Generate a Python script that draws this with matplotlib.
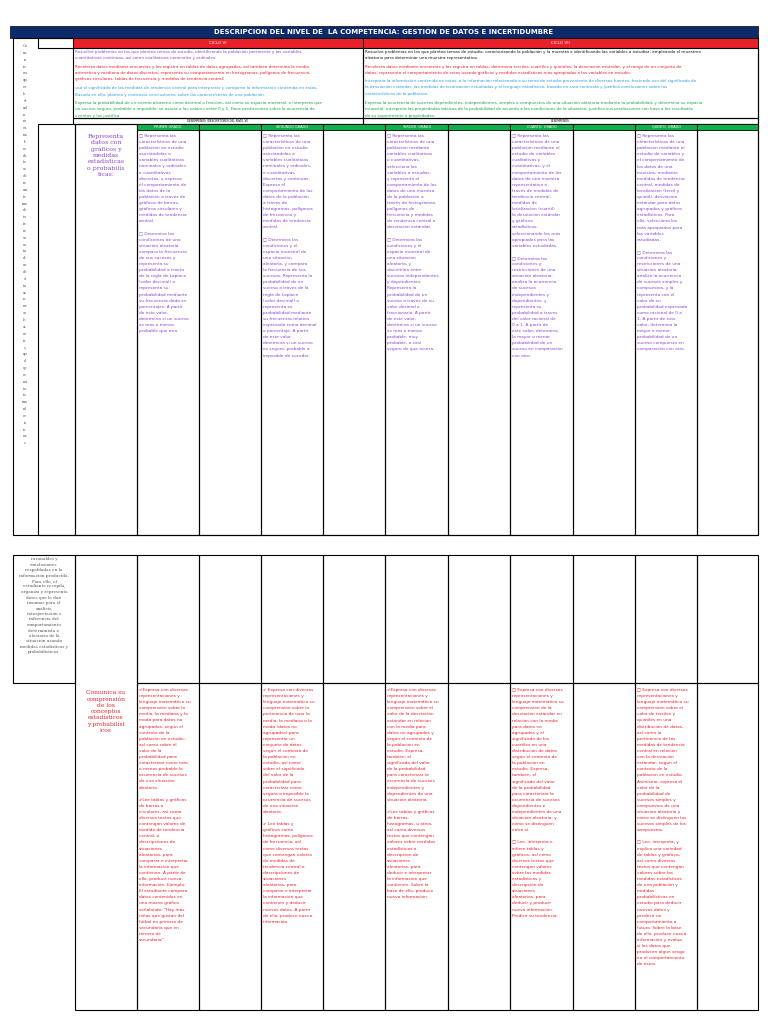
import textwrap
import matplotlib.pyplot as plt
from matplotlib.patches import Rectangle

TITLE = "DESCRIPCION DEL NIVEL DE  LA COMPETENCIA: GESTIÓN DE DATOS E INCERTIDUMBRE"
CYCLES = ["CICLO VI", "CICLO VII"]
GRADES = ["PRIMER GRADO", "SEGUNDO GRADO", "TERCER  GRADO", "CUARTO  GRADO", "QUINTO  GRADO"]

CYCLE6_PARTS = [
    ("Resuelve problemas en los que plantea temas de estudio, identificando la población pertinente y las variables cuantitativas continuas, así como cualitativas nominales y ordinales.", "#8e44c9"),
    ("Recolecta datos mediante encuestas y los registra en tablas de datos agrupados, así también determina la media aritmética y mediana de datos discretos; representa su comportamiento en histogramas, polígonos de frecuencia, gráficos circulares, tablas de frecuencia y medidas de tendencia central;", "#e8202a"),
    ("usa el significado de las medidas de tendencia central para interpretar y comparar la información contenida en estos. Basado en ello, plantea y contrasta conclusiones, sobre las características de una población.", "#2f9be0"),
    ("Expresa la probabilidad de un evento aleatorio como decimal o fracción, así como su espacio muestral; e interpreta que un suceso seguro, probable e imposible, se asocia a los valores entre 0 y 1. Hace predicciones sobre la ocurrencia de eventos y las justifica.", "#1aa34a"),
]
CYCLE7_PARTS = [
    ("Resuelve problemas en los que plantea temas de estudio, caracterizando la población y la muestra e identificando las variables a estudiar; empleando el muestreo aleatorio para determinar una muestra representativa.", "#111111"),
    ("Recolecta datos mediante encuestas y los registra en tablas, determina terciles, cuartiles y quintiles; la desviación estándar, y el rango de un conjunto de datos; representa el comportamiento de estos usando gráficos y medidas estadísticas más apropiadas a las variables en estudio.", "#e8202a"),
    ("Interpreta la información contenida en estos, o la información relacionada a su tema de estudio proveniente de diversas fuentes, haciendo uso del significado de la desviación estándar, las medidas de localización estudiadas y el lenguaje estadístico; basado en esto contrasta y justifica conclusiones sobre las características de la población.", "#2f9be0"),
    ("Expresa la ocurrencia de sucesos dependientes, independientes, simples o compuestos de una situación aleatoria mediante la probabilidad, y determina su espacio muestral; interpreta las propiedades básicas de la probabilidad de acuerdo a las condiciones de la situación; justifica sus predicciones con base a los resultados de su experimento o propiedades.", "#1aa34a"),
]

CAP1 = "Representa datos con gráficos y medidas estadísticas o probabilísticas:"
CAP2 = "Comunica su comprensión de los conceptos estadísticos y probabilísticos"
LEFT_TEXT = ("razonables y conclusiones respaldadas en la información producida. Para ello, el estudiante recopila, organiza "
             "y representa datos que le dan insumos para el análisis, interpretación e inferencia del comportamiento "
             "determinista o aleatorio de la situación usando medidas estadísticas y probabilísticas.")
VERTICAL_TEXT = ("Consiste en que el estudiante analice datos sobre un tema de interés o estudio o de situaciones "
                 "aleatorias, que le permita tomar decisiones")

ROW1_TEXTS = [
    "□ Representa las características de una población en estudio asociándolas a variables cualitativas nominales y ordinales, o cuantitativas discretas, y expresa el comportamiento de los datos de la población a través de gráficos de barras, gráficos circulares y medidas de tendencia central.\n□ Determina las condiciones de una situación aleatoria, compara la frecuencia de sus sucesos y representa su probabilidad a través de la regla de Laplace (valor decimal) o representa su probabilidad mediante su frecuencia dada en porcentajes. A partir de este valor, determina si un suceso es más o menos probable que otro.",
    "□ Representa las características de una población en estudio asociándolas a variables cualitativas nominales y ordinales, o cuantitativas discretas y continuas. Expresa el comportamiento de los datos de la población a través de histogramas, polígonos de frecuencia y medidas de tendencia central.\n□ Determina las condiciones y el espacio muestral de una situación aleatoria, y compara la frecuencia de sus sucesos. Representa la probabilidad de un suceso a través de la regla de Laplace (valor decimal) o representa su probabilidad mediante su frecuencia relativa expresada como decimal o porcentaje. A partir de este valor determina si un suceso es seguro, probable o imposible de suceder.",
    "□ Representa las características de una población mediante variables cualitativas o cuantitativas, selecciona las variables a estudiar, y representa el comportamiento de los datos de una muestra de la población a través de histogramas, polígonos de frecuencia y medidas de tendencia central o desviación estándar.\n□ Determina las condiciones y el espacio muestral de una situación aleatoria, y discrimina entre sucesos independientes y dependientes. Representa la probabilidad de un suceso a través de su valor decimal o fraccionario. A partir de este valor, determina si un suceso es más o menos probable, muy probable, o casi seguro de que ocurra.",
    "□ Representa las características de una población mediante el estudio de variables cualitativas y cuantitativas, y el comportamiento de los datos de una muestra representativa a través de medidas de tendencia central, medidas de localización (cuartil) la desviación estándar y gráficos estadísticos, seleccionando los más apropiados para las variables estudiadas.\n□ Determina las condiciones y restricciones de una situación aleatoria, analiza la ocurrencia de sucesos independientes y dependientes, y representa su probabilidad a través del valor racional de 0 a 1. A partir de este valor, determina la mayor o menor probabilidad de un suceso en comparación con otro.",
    "□ Representa las características de una población mediante el estudio de variables y el comportamiento de los datos de una muestra, mediante medidas de tendencia central, medidas de localización (tercil y quintil), desviación estándar para datos agrupados y gráficos estadísticos. Para ello, selecciona los más apropiados para las variables estudiadas.\n□ Determina las condiciones y restricciones de una situación aleatoria, analiza la ocurrencia de sucesos simples y compuestos, y la representa con el valor de su probabilidad expresada como racional de 0 a 1. A partir de este valor, determina la mayor o menor probabilidad de un suceso compuesto en comparación con otro.",
]
ROW2_TEXTS = [
    "✔Expresa con diversas representaciones y lenguaje matemático su comprensión sobre la media, la mediana y la moda para datos no agrupados, según el contexto de la población en estudio, así como sobre el valor de la probabilidad para caracterizar como más o menos probable la ocurrencia de sucesos de una situación aleatoria.\n✔Lee tablas y gráficos de barras o circulares, así como diversos textos que contengan valores de medida de tendencia central, o descripciones de situaciones aleatorias, para comparar e interpretar la información que contienen. A partir de ello, produce nueva información. Ejemplo: El estudiante compara datos contenidos en una misma gráfica señalando: \"Hay más niñas que gustan del fútbol en primero de secundaria que en tercero de secundaria\".",
    "✔ Expresa con diversas representaciones y lenguaje matemático su comprensión sobre la pertinencia de usar la media, la mediana o la moda (datos no agrupados) para representar un conjunto de datos según el contexto de la población en estudio, así como sobre el significado del valor de la probabilidad para caracterizar como segura o imposible la ocurrencia de sucesos de una situación aleatoria.\n✔ Lee tablas y gráficos como histogramas, polígonos de frecuencia, así como diversos textos que contengan valores de medidas de tendencia central o descripciones de situaciones aleatorias, para comparar e interpretar la información que contienen y deducir nuevos datos. A partir de ello, produce nueva información.",
    "✔Expresa con diversas representaciones y lenguaje matemático su comprensión sobre el valor de la desviación estándar en relación con la media para datos no agrupados y según el contexto de la población en estudio. Expresa, también, el significado del valor de la probabilidad para caracterizar la ocurrencia de sucesos independientes y dependientes de una situación aleatoria.\n✔Lee tablas y gráficos de barras, histogramas, u otros, así como diversos textos que contengan valores sobre medidas estadísticas o descripción de situaciones aleatorias, para deducir e interpretar la información que contienen. Sobre la base de ello, produce nueva información.",
    "□ Expresa con diversas representaciones y lenguaje matemático su comprensión de la desviación estándar en relación con la media para datos no agrupados y el significado de los cuartiles en una distribución de datos según el contexto de la población en estudio. Expresa, también, el significado del valor de la probabilidad para caracterizar la ocurrencia de sucesos dependientes e independientes de una situación aleatoria, y cómo se distinguen entre sí.\n□ Lee, interpreta e infiere tablas y gráficos, así como diversos textos que contengan valores sobre las medidas estadísticas y descripción de situaciones aleatorias, para deducir y producir nueva información. Predice su tendencia.",
    "□ Expresa con diversas representaciones y lenguaje matemático su comprensión sobre el valor de terciles y quintiles en una distribución de datos, así como la pertinencia de las medidas de tendencia central en relación con la desviación estándar, según el contexto de la población en estudio. Asimismo, expresa el valor de la probabilidad de sucesos simples y compuestos de una situación aleatoria y cómo se distinguen las sucesos simples de los compuestos.\n□ Lee, interpreta, y explica una variedad de tablas y gráficos, así como diversos textos que contengan valores sobre las medidas estadísticas de una población y medidas probabilísticas en estudio para deducir nuevos datos y predecir un comportamiento a futuro. Sobre la base de ello, produce nueva información y evalúa si los datos que producen algún sesgo en el comportamiento de éstos.",
]
ROW1_COLORS = ["#8e44c9"] * 5
ROW2_COLORS = ["#e8202a"] * 5

W, H = 768, 1024
fig = plt.figure(figsize=(7.68, 10.24), dpi=100)
ax = fig.add_axes([0, 0, 1, 1])
ax.set_xlim(0, W)
ax.set_ylim(H, 0)
ax.axis("off")


def box(x0, y0, x1, y1, fc="none", lw=0.8, ec="black"):
    ax.add_patch(Rectangle((x0, y0), x1 - x0, y1 - y0, fc=fc, ec=ec, lw=lw))


def para(x, y, w, text, color, size=3.0, chars=None, align="left", family="DejaVu Sans", ls=1.7):
    chars = chars or int(w / (size * 0.82))
    lines = []
    for p in text.split("\n"):
        lines += textwrap.wrap(p, chars) + [""]
    ax.text(x, y, "\n".join(lines).rstrip(), color=color, fontsize=size, va="top",
            ha=align, family=family, linespacing=ls)


cols = [137, 199, 261, 323, 385, 448, 510, 573, 635, 697, 758]

# ---- page 1 ----
box(10, 26, 758, 38, fc="#0d2a6b", lw=0.5)
ax.text(384, 32, TITLE, color="white", fontsize=5, ha="center", va="center", weight="bold")
box(13, 38, 758, 535, lw=0.8)
box(38, 38, 73, 48)
box(73, 38, 363, 48, fc="#e8202a", lw=0.6)
box(363, 38, 758, 48, fc="#e8202a", lw=0.6)
ax.text(218, 43, CYCLES[0], color="white", fontsize=3, ha="center", va="center")
ax.text(560, 43, CYCLES[1], color="white", fontsize=3, ha="center", va="center")
box(73, 48, 363, 118)
box(363, 48, 758, 118)
for parts, x0, x1, ncol in [(CYCLE6_PARTS, 75, 361, 118), (CYCLE7_PARTS, 365, 756, 162)]:
    yy = 50
    for t, c in parts:
        lines = textwrap.wrap(t, ncol)
        ax.text(x0, yy, "\n".join(lines), color=c, fontsize=3.0, va="top", linespacing=1.75)
        yy += len(lines) * 3.0 * 1.75 * 1.389
box(73, 118, 363, 124)
box(363, 118, 758, 124)
ax.text(218, 121, "DESEMPEÑOS (DESCRIPTORES DEL NIVEL VI)", fontsize=2, ha="center", va="center")
ax.text(560, 121, "DESEMPEÑOS", fontsize=2, ha="center", va="center")
box(38, 124, 75, 535)
box(75, 124, 137, 535)
for i in range(len(cols) - 1):
    box(cols[i], 124, cols[i + 1], 535)
    box(cols[i], 124, cols[i + 1], 130, fc="#10b04a", lw=0.6)
for i, g in enumerate(GRADES):
    ax.text((cols[2 * i] + cols[2 * i + 1]) / 2, 127, g, fontsize=2.5, color="white",
            ha="center", va="center")
vt = VERTICAL_TEXT.replace(" ", "")
ax.text(25, 44, "\n".join(vt[i:i + 2] for i in range(0, len(vt), 2)), fontsize=2.7,
        color="#555555", ha="center", va="top", family="DejaVu Serif", linespacing=1.95)
para(106, 134, 55, CAP1, "#8e44c9", size=4.5, chars=12, align="center", family="DejaVu Serif", ls=1.3)
for i, t in enumerate(ROW1_TEXTS):
    para(cols[2 * i] + 2, 134, 56, t, ROW1_COLORS[i], size=3.1)

# ---- page 2 ----
box(13, 555, 75, 683)
para(44, 557, 55, LEFT_TEXT, "#555555", size=3.0, chars=22, align="center", family="DejaVu Serif", ls=1.5)
box(75, 555, 137, 1010)
for i in range(len(cols) - 1):
    box(cols[i], 555, cols[i + 1], 683)
    box(cols[i], 683, cols[i + 1], 1010)
para(106, 690, 55, CAP2, "#e8202a", size=4.3, chars=13, align="center", family="DejaVu Serif", ls=1.3)
for i, t in enumerate(ROW2_TEXTS):
    para(cols[2 * i] + 2, 688, 56, t, ROW2_COLORS[i], size=3.1)

fig.savefig("out.png", dpi=100)
